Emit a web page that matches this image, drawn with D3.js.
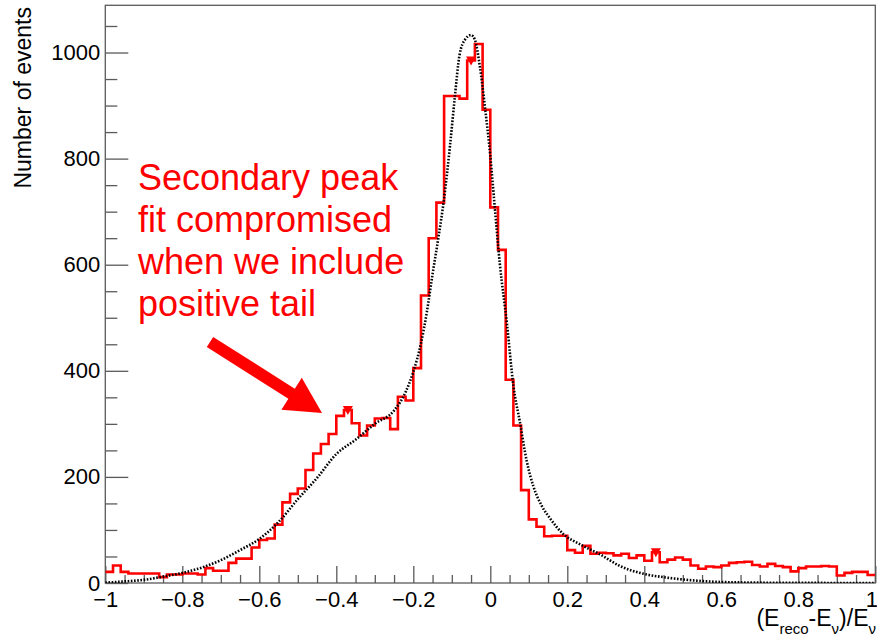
<!DOCTYPE html>
<html>
<head>
<meta charset="utf-8">
<script src="https://cdn.jsdelivr.net/npm/d3@7"></script>
<style>
  body { margin: 0; background: #fff; }
  svg { display: block; font-family: "Liberation Sans", Arial, Helvetica, sans-serif; }
</style>
</head>
<body>
<svg id="chart" width="877" height="638"></svg>
<script>
// Energy resolution histogram with fit

// 100 bins from -1 to 1
const binLow = -1, binHigh = 1;
const counts = [
  21, 33, 21, 18, 18, 18, 18, 11, 16, 16,
  18, 18, 16, 28, 23, 23, 38, 46, 46, 67,
  81, 84, 110, 152, 168, 178, 213, 244, 262, 281,
  315, 326, 301, 278, 297, 310, 311, 290, 351, 344,
  405, 542, 650, 717, 918, 918, 913, 985, 1016, 892,
  708, 628, 383, 297, 175, 120, 106, 88, 89, 89,
  62, 57, 70, 55, 57, 56, 52, 55, 47, 52,
  42, 58, 39, 44, 48, 44, 33, 27, 31, 30,
  33, 38, 39, 40, 34, 31, 36, 32, 30, 22,
  28, 31, 31, 32, 31, 14, 19, 21, 21, 15
];
// bins that carry the small error marker
const markedBins = [31, 47, 71];

// dotted fit curve
const fitX = [-1.0, -0.95, -0.9, -0.85, -0.8, -0.75, -0.7, -0.65, -0.6, -0.55,
  -0.5, -0.45, -0.4, -0.35, -0.3, -0.25, -0.22, -0.2, -0.18, -0.165,
  -0.15, -0.135, -0.12, -0.105, -0.092, -0.08, -0.065, -0.05, -0.04, -0.027,
  -0.014, 0.0, 0.012, 0.025, 0.043, 0.06, 0.077, 0.094, 0.112, 0.134,
  0.155, 0.19, 0.233, 0.285, 0.337, 0.4, 0.45, 0.51, 0.58, 0.66, 0.8, 1.0];
const fitY = [0.5, 3, 6, 12, 19, 29, 43, 62, 83, 115,
  158, 198, 243, 270, 300, 325, 360, 398, 452, 510,
  582, 650, 725, 822, 917, 995, 1025, 1033, 1024, 973,
  898, 805, 705, 600, 490, 372, 303, 232, 182, 145,
  122, 92, 73, 54, 32, 17, 11, 6, 2.5, 1, 0.3, 0];

const yMajor = [0, 200, 400, 600, 800, 1000];
const xMajor = [-1, -0.8, -0.6, -0.4, -0.2, 0, 0.2, 0.4, 0.6, 0.8, 1];

const svg = d3.select("#chart");
const width = 877, height = 638;
const margin = {top: 5.3, right: 1.7, bottom: 55, left: 105.3};
const frameColor = "#5a5a5a";

const x = d3.scaleLinear()
  .domain([binLow, binHigh])
  .range([margin.left, width - margin.right]);

const y = d3.scaleLinear()
  .domain([0, 1089])
  .range([height - margin.bottom, margin.top]);

svg.append("rect").attr("width", width).attr("height", height).attr("fill", "#fff");

svg.append("clipPath").attr("id", "plot")
  .append("rect")
  .attr("x", margin.left).attr("y", margin.top)
  .attr("width", width - margin.left - margin.right)
  .attr("height", height - margin.top - margin.bottom);

// Axes (ROOT style: ticks pointing inward)
const fmt = d3.format(".1~f");
const xMinor = d3.range(-1, 1.0001, 0.05).map(v => +v.toFixed(2)).filter(v => !xMajor.some(m => Math.abs(m - v) < 1e-6));
const yMinor = d3.range(0, 1089, 50).filter(v => v % 200 !== 0);

function styleAxis(g) {
  g.select(".domain").remove();
  g.selectAll("line").attr("stroke", frameColor).attr("stroke-width", 1.3);
  g.selectAll("text").attr("fill", "#000").style("font-size", "22px")
    .style("font-family", "'Liberation Sans', Arial, sans-serif");
}

svg.append("g")
  .attr("transform", `translate(0,${height - margin.bottom})`)
  .call(d3.axisBottom(x).tickValues(xMajor).tickSize(-17).tickPadding(8).tickFormat(fmt))
  .call(styleAxis)
  .call(g => g.selectAll(".tick text").filter(d => d === 1).attr("dx", -4));

svg.append("g")
  .attr("transform", `translate(0,${height - margin.bottom})`)
  .call(d3.axisBottom(x).tickValues(xMinor).tickSize(-8).tickFormat(""))
  .call(styleAxis);

svg.append("g")
  .attr("transform", `translate(${margin.left},0)`)
  .call(d3.axisLeft(y).tickValues(yMajor).tickSize(-23).tickPadding(5).tickFormat(d3.format("d")))
  .call(styleAxis);

svg.append("g")
  .attr("transform", `translate(${margin.left},0)`)
  .call(d3.axisLeft(y).tickValues(yMinor).tickSize(-12).tickFormat(""))
  .call(styleAxis);

// Frame
svg.append("rect")
  .attr("x", margin.left).attr("y", margin.top)
  .attr("width", width - margin.left - margin.right)
  .attr("height", height - margin.top - margin.bottom)
  .attr("fill", "none")
  .attr("stroke", frameColor)
  .attr("stroke-width", 1.3);

// Histogram outline
const binW = (binHigh - binLow) / counts.length;
const steps = counts.map((c, i) => [binLow + i * binW, c]);
steps.push([binHigh, counts[counts.length - 1]]);

const plot = svg.append("g").attr("clip-path", "url(#plot)");

plot.append("path")
  .datum(steps)
  .attr("fill", "none")
  .attr("stroke", "#ff0000")
  .attr("stroke-width", 2.6)
  .attr("d", d3.line().x(d => x(d[0])).y(d => y(d[1])).curve(d3.curveStepAfter));

plot.selectAll("path.marker")
  .data(markedBins)
  .join("path")
  .attr("class", "marker")
  .attr("fill", "#ff0000")
  .attr("d", i => {
    const cx = x(binLow + (i + 0.5) * binW), cy = y(counts[i]);
    return `M${cx - 5},${cy - 4}L${cx + 5},${cy - 4}L${cx},${cy + 5}Z`;
  });

// Fit curve
plot.append("path")
  .datum(fitX.map((v, i) => [v, fitY[i]]))
  .attr("fill", "none")
  .attr("stroke", "#000")
  .attr("stroke-width", 2.6)
  .attr("stroke-dasharray", "1.6,1.6")
  .attr("d", d3.line().x(d => x(d[0])).y(d => y(d[1])).curve(d3.curveMonotoneX));

// Axis titles
svg.append("text")
  .attr("transform", "rotate(-90)")
  .attr("x", -7)
  .attr("y", 31)
  .attr("text-anchor", "end")
  .style("font-size", "23px")
  .text("Number of events");

const xt = svg.append("text")
  .attr("x", 876)
  .attr("y", 626)
  .attr("text-anchor", "end")
  .style("font-size", "23px");
xt.append("tspan").text("(E");
xt.append("tspan").attr("dy", 8).style("font-size", "15px").text("reco");
xt.append("tspan").attr("dy", -8).text("-E");
xt.append("tspan").attr("dy", 8).style("font-size", "15px").text("ν");
xt.append("tspan").attr("dy", -8).text(")/E");
xt.append("tspan").attr("dy", 8).style("font-size", "15px").text("ν");

// Annotation
const note = ["Secondary peak", "fit compromised", "when we include", "positive tail"];
svg.append("g")
  .selectAll("text")
  .data(note)
  .join("text")
  .attr("x", 138)
  .attr("y", (d, i) => 190 + i * 42)
  .attr("fill", "#ff0000")
  .style("font-size", "36px")
  .text(d => d);

// Arrow
const S = [210, 342], T = [322, 413];
const len = Math.hypot(T[0] - S[0], T[1] - S[1]);
const u = [(T[0] - S[0]) / len, (T[1] - S[1]) / len];
const n = [-u[1], u[0]];
const B = [T[0] - u[0] * 36, T[1] - u[1] * 36];
const pt = (p, k) => [p[0] + n[0] * k, p[1] + n[1] * k];
svg.append("path")
  .attr("fill", "#ff0000")
  .attr("d", d3.line()([pt(S, 6), pt(B, 6), pt(B, 19), T, pt(B, -19), pt(B, -6), pt(S, -6)]) + "Z");
</script>
</body>
</html>
